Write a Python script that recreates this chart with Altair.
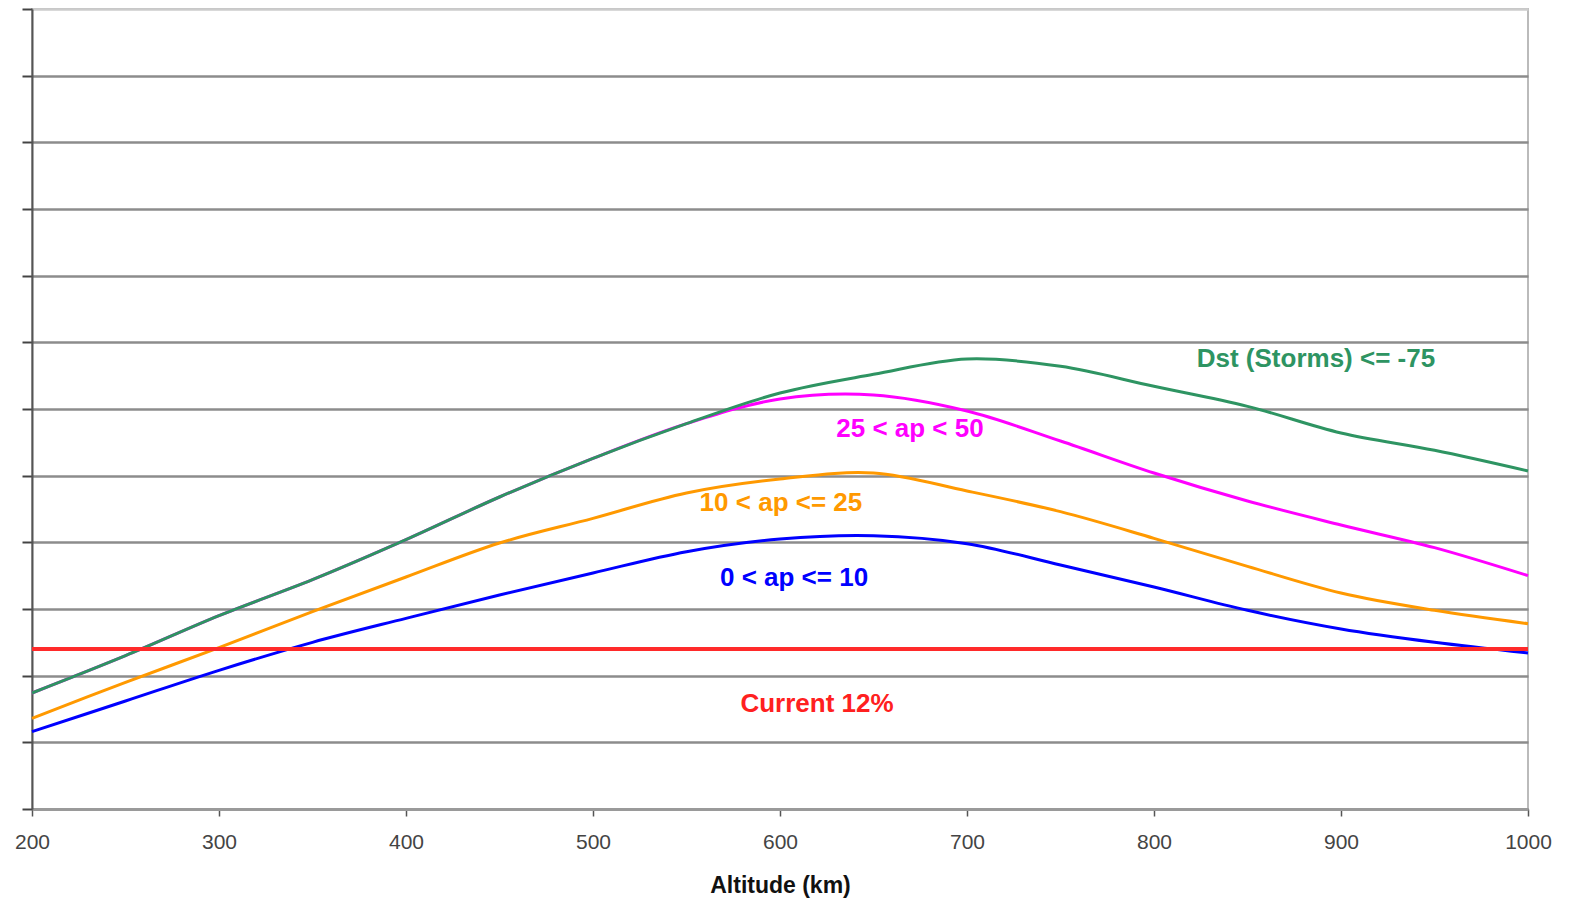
import altair as alt
import pandas as pd

altitude = [200, 250, 300, 350, 400, 450, 500, 550, 600, 650, 700, 750, 800, 850, 900, 950, 1000]
dst_storms = [8.7, 11.5, 14.5, 17.2, 20.2, 23.4, 26.3, 28.9, 31.2, 32.6, 33.75, 33.2, 31.7, 30.2, 28.2, 26.9, 25.35]
ap_25_50 = [8.7, 11.5, 14.5, 17.2, 20.2, 23.4, 26.3, 28.9, 30.75, 31.05, 29.85, 27.6, 25.2, 23.1, 21.3, 19.6, 17.5]
ap_10_25 = [6.8, 9.5, 12.1, 14.8, 17.4, 19.95, 21.8, 23.7, 24.75, 25.2, 23.85, 22.3, 20.3, 18.2, 16.2, 14.9, 13.9]
ap_0_10 = [5.8, 8.1, 10.4, 12.5, 14.3, 16.05, 17.7, 19.3, 20.25, 20.5, 19.9, 18.3, 16.65, 14.9, 13.5, 12.5, 11.7]
current = [12]

# drawing order: magenta first so green sits on top where they overlap
series_names = ["25 < ap < 50", "10 < ap <= 25", "0 < ap <= 10", "Dst (Storms) <= -75"]
series_values = [ap_25_50, ap_10_25, ap_0_10, dst_storms]
series_colors = ["#ff00ff", "#ff9900", "#0000ff", "#2e9462"]

label_texts = ["Dst (Storms) <= -75", "25 < ap < 50", "10 < ap <= 25", "0 < ap <= 10", "Current 12%"]
label_x = [886.6, 669.5, 600.5, 607.5, 619.8]
label_y = [33.75, 28.5, 22.95, 17.3, 7.9]
label_colors = ["#2e9462", "#ff00ff", "#ff9900", "#0000ff", "#ff2020"]

x_scale = alt.Scale(domain=[200, 1000], nice=False, zero=False)
y_scale = alt.Scale(domain=[0, 60], nice=False)

x_axis = alt.Axis(
    values=list(range(200, 1001, 100)),
    format="d",
    labelFlush=False,
    labelOverlap=False,
    title="Altitude (km)",
    titleFont="Liberation Sans",
    titleFontSize=23,
    titleFontWeight="bold",
    titleColor="#111111",
    titlePadding=22,
    labelFont="Liberation Sans",
    labelFontSize=21,
    labelColor="#444444",
    labelPadding=15,
    tickSize=7,
    tickColor="#555555",
    tickWidth=1.5,
    domainColor="#9a9a9a",
    domainWidth=3,
    grid=False,
)

y_axis = alt.Axis(
    values=list(range(0, 61, 5)),
    labels=False,
    title=None,
    tickSize=10,
    tickColor="#444444",
    tickWidth=2,
    domainColor="#555555",
    domainWidth=2,
    grid=True,
    gridColor={"condition": {"test": "datum.value >= 60", "value": "#cccccc"}, "value": "#8c8c8c"},
    gridWidth=2.5,
)

X = lambda: alt.X("altitude:Q", scale=x_scale, axis=x_axis)
Y = lambda: alt.Y("value:Q", scale=y_scale, axis=y_axis)

layers = []
for name, vals, col in zip(series_names, series_values, series_colors):
    d = pd.DataFrame({"altitude": altitude, "value": vals, "series": name})
    layers.append(
        alt.Chart(d).mark_line(strokeWidth=3, interpolate="catmull-rom", color=col).encode(x=X(), y=Y())
    )

df_cur = pd.DataFrame({"value": current})
cur_rule = alt.Chart(df_cur).mark_rule(color="#ff2a2a", strokeWidth=4).encode(y=Y())

df_lab = pd.DataFrame({"text": label_texts, "altitude": label_x, "value": label_y, "color": label_colors})
labels = alt.Chart(df_lab).mark_text(
    font="Liberation Sans", fontSize=26, fontWeight="bold", align="center", baseline="middle"
).encode(
    x=X(),
    y=Y(),
    text="text:N",
    color=alt.Color("color:N", scale=None),
)

chart = alt.layer(*layers, cur_rule, labels).properties(
    width=1496,
    height=800,
    autosize=alt.AutoSizeParams(type="none"),
    padding={"left": 24, "top": 1, "right": 30, "bottom": 90},
    background="white",
).configure_view(stroke="#bbbbbb", strokeWidth=2)

chart.save("out.html", embed_options={"renderer": "svg", "actions": False})
